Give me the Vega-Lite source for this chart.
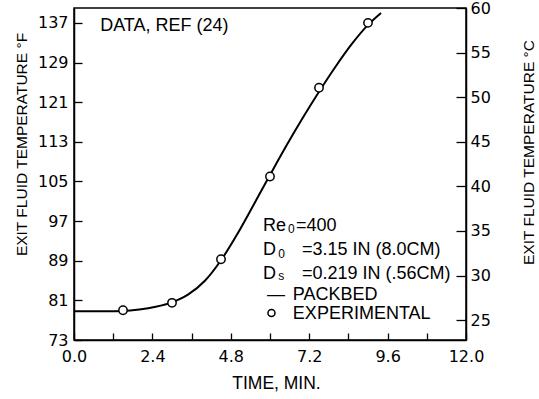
{
  "$schema": "https://vega.github.io/schema/vega-lite/v6.json",
  "width": 392,
  "height": 332,
  "autosize": {"type": "none"},
  "padding": {"left": 74, "top": 8, "right": 73, "bottom": 59},
  "background": "white",
  "config": {
    "view": {"stroke": "black", "strokeWidth": 1.5},
    "axis": {
      "domainColor": "black", "domainWidth": 1.5,
      "tickColor": "black", "tickWidth": 1.3,
      "labelColor": "black", "titleColor": "black",
      "labelFont": "DejaVu Sans", "labelFontSize": 16,
      "titleFont": "Liberation Sans", "titleFontSize": 15.5, "titleFontWeight": "normal",
      "grid": false, "labelOverlap": false, "labelFlush": false
    },
    "text": {"font": "Liberation Sans", "fontSize": 18, "color": "black"}
  },
  "datasets": {
    "curve": [
      {"time": 0, "temp_f": 78.8},
      {"time": 1.0, "temp_f": 78.8},
      {"time": 1.5, "temp_f": 78.85},
      {"time": 2.0, "temp_f": 79.15},
      {"time": 2.5, "temp_f": 79.7},
      {"time": 3.0, "temp_f": 80.6},
      {"time": 3.5, "temp_f": 82.2},
      {"time": 4.0, "temp_f": 84.9},
      {"time": 4.5, "temp_f": 89.1},
      {"time": 5.0, "temp_f": 94.4},
      {"time": 5.5, "temp_f": 100.3},
      {"time": 6.0, "temp_f": 106.3},
      {"time": 6.5, "temp_f": 112.2},
      {"time": 7.0, "temp_f": 117.8},
      {"time": 7.5, "temp_f": 123.1},
      {"time": 8.0, "temp_f": 128.1},
      {"time": 8.5, "temp_f": 132.7},
      {"time": 9.0, "temp_f": 136.6},
      {"time": 9.4, "temp_f": 139.0}
    ],
    "experimental": [
      {"time": 1.5, "temp_f": 79.0},
      {"time": 3.0, "temp_f": 80.5},
      {"time": 4.5, "temp_f": 89.3},
      {"time": 6.0, "temp_f": 106.0},
      {"time": 7.5, "temp_f": 123.9},
      {"time": 9.0, "temp_f": 137.0}
    ],
    "notes": [
      {"time": 0.80, "temp_f": 136.3, "label": "DATA, REF (24)"},
      {"time": 5.785, "temp_f": 96.1, "label": "Re"},
      {"time": 6.795, "temp_f": 96.1, "label": "=400"},
      {"time": 5.785, "temp_f": 91.1, "label": "D"},
      {"time": 6.98, "temp_f": 91.1, "label": "=3.15 IN (8.0CM)"},
      {"time": 5.785, "temp_f": 86.4, "label": "D"},
      {"time": 6.98, "temp_f": 86.4, "label": "=0.219 IN (.56CM)"},
      {"time": 5.91, "temp_f": 82.1, "label": "—"},
      {"time": 6.70, "temp_f": 82.1, "label": "PACKBED"},
      {"time": 6.70, "temp_f": 78.2, "label": "EXPERIMENTAL"}
    ],
    "subscripts": [
      {"time": 6.55, "temp_f": 95.5, "label": "0"},
      {"time": 6.25, "temp_f": 90.4, "label": "0"},
      {"time": 6.25, "temp_f": 86.0, "label": "s"}
    ],
    "legendsymbol": [
      {"time": 6.045, "temp_f": 78.45}
    ]
  },
  "encoding": {
    "x": {
      "field": "time", "type": "quantitative",
      "scale": {"domain": [0, 12], "nice": false, "zero": false},
      "axis": {
        "orient": "bottom",
        "values": [0, 1.2, 2.4, 3.6, 4.8, 6, 7.2, 8.4, 9.6, 10.8, 12],
        "labelExpr": "round(datum.value*10) % 24 == 0 ? format(datum.value, '.1f') : ''",
        "tickSize": -7, "labelPadding": 15,
        "title": "TIME, MIN.", "titleFontSize": 17.5, "titleX": 202, "titleY": 43.5,
        "titleAlign": "center", "titleBaseline": "middle"
      }
    }
  },
  "resolve": {"axis": {"y": "independent"}},
  "layer": [
    {
      "data": {"name": "curve"},
      "mark": {"type": "line", "color": "black", "strokeWidth": 2, "interpolate": "monotone"},
      "encoding": {
        "y": {
          "field": "temp_f", "type": "quantitative",
          "scale": {"domain": [73, 140], "nice": false, "zero": false},
          "axis": {
            "orient": "left",
            "values": [73, 81, 89, 97, 105, 113, 121, 129, 137],
            "format": "d",
            "tickSize": -8, "labelPadding": 14,
            "title": "EXIT FLUID TEMPERATURE °F",
            "titleAngle": -90, "titleX": -53, "titleY": 136,
            "titleAlign": "center", "titleBaseline": "middle"
          }
        }
      }
    },
    {
      "data": {"name": "experimental"},
      "mark": {"type": "point", "shape": "circle", "filled": true, "fill": "white", "stroke": "black", "strokeWidth": 1.5, "size": 70, "opacity": 1},
      "encoding": {
        "y": {
          "field": "temp_f", "type": "quantitative",
          "scale": {"domain": [73, 140], "nice": false, "zero": false},
          "axis": {
            "orient": "right",
            "values": [77, 86, 95, 104, 113, 122, 131, 140],
            "labelExpr": "format(round((datum.value-32)/1.8), 'd')",
            "tickSize": -10, "labelPadding": 14,
            "title": "EXIT FLUID TEMPERATURE °C",
            "titleAngle": -90, "titleX": 62, "titleY": 144,
            "titleAlign": "center", "titleBaseline": "middle"
          }
        }
      }
    },
    {
      "data": {"name": "notes"},
      "mark": {"type": "text", "align": "left", "baseline": "middle", "font": "Liberation Sans", "fontSize": 18},
      "encoding": {
        "y": {"field": "temp_f", "type": "quantitative", "scale": {"domain": [73, 140], "nice": false, "zero": false}, "axis": null},
        "text": {"field": "label"}
      }
    },
    {
      "data": {"name": "subscripts"},
      "mark": {"type": "text", "align": "left", "baseline": "middle", "font": "Liberation Sans", "fontSize": 12},
      "encoding": {
        "y": {"field": "temp_f", "type": "quantitative", "scale": {"domain": [73, 140], "nice": false, "zero": false}, "axis": null},
        "text": {"field": "label"}
      }
    },
    {
      "data": {"name": "legendsymbol"},
      "mark": {"type": "point", "shape": "circle", "filled": false, "stroke": "black", "strokeWidth": 1.5, "size": 50, "opacity": 1},
      "encoding": {
        "y": {"field": "temp_f", "type": "quantitative", "scale": {"domain": [73, 140], "nice": false, "zero": false}, "axis": null}
      }
    }
  ]
}
